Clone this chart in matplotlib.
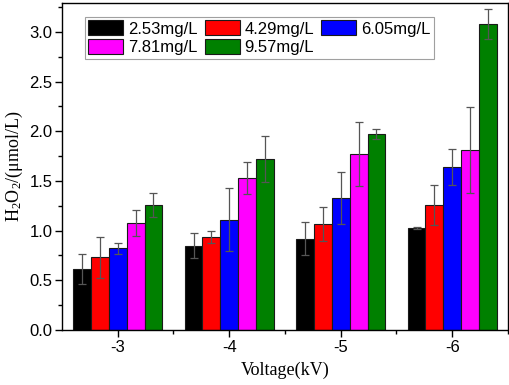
import matplotlib
matplotlib.use("Agg")
import matplotlib.pyplot as plt
import numpy as np
from matplotlib.ticker import MultipleLocator, FixedLocator

voltages = ["-3", "-4", "-5", "-6"]
series_labels = ["2.53mg/L", "4.29mg/L", "6.05mg/L", "7.81mg/L", "9.57mg/L"]
colors = ["#000000", "#ff0000", "#0000ff", "#ff00ff", "#008000"]

v_253 = [0.61, 0.85, 0.92, 1.03]
v_429 = [0.73, 0.94, 1.07, 1.26]
v_605 = [0.82, 1.11, 1.33, 1.64]
v_781 = [1.08, 1.53, 1.77, 1.81]
v_957 = [1.26, 1.72, 1.97, 3.08]

e_253 = [0.15, 0.13, 0.17, 0.01]
e_429 = [0.21, 0.06, 0.17, 0.20]
e_605 = [0.06, 0.32, 0.26, 0.18]
e_781 = [0.13, 0.16, 0.32, 0.43]
e_957 = [0.12, 0.23, 0.05, 0.15]

values = [v_253, v_429, v_605, v_781, v_957]
errors = [e_253, e_429, e_605, e_781, e_957]

plt.rcParams['font.family'] = ['Liberation Sans', 'DejaVu Sans']
plt.rcParams['mathtext.fontset'] = 'custom'
plt.rcParams['mathtext.rm'] = 'Liberation Serif'
plt.rcParams['mathtext.it'] = 'Liberation Serif:italic'

fig = plt.figure(figsize=(5.1, 3.85), dpi=100)
ax = fig.add_axes([62/510, 55/385, 446/510, 327/385])

x = np.arange(1, len(voltages) + 1)
w = 0.16
handles = []
for i, (vals, errs) in enumerate(zip(values, errors)):
    pos = x + (i - 2) * w
    b = ax.bar(pos, vals, width=w, color=colors[i], edgecolor="#1a1a1a",
               linewidth=0.8, label=series_labels[i], zorder=2)
    ax.errorbar(pos, vals, yerr=errs, fmt="none", ecolor="#555555",
                elinewidth=0.9, capsize=3, capthick=0.9, zorder=3)
    handles.append(b)

ax.set_xlim(0.5, 4.5)
ax.set_ylim(0, 3.29)
ax.set_xticks(x)
ax.set_xticklabels(voltages)
ax.xaxis.set_minor_locator(FixedLocator([1.5, 2.5, 3.5, 4.5]))
ax.yaxis.set_major_locator(MultipleLocator(0.5))
ax.yaxis.set_minor_locator(MultipleLocator(0.25))
ax.tick_params(axis="both", which="major", direction="out", length=5, width=1,
               labelsize=12, pad=2, top=False, right=False)
ax.tick_params(axis="both", which="minor", direction="out", length=3, width=1,
               top=False, right=False)
for s in ax.spines.values():
    s.set_linewidth(1.0)

ax.set_ylabel("H$_2$O$_2$/(μmol/L)", family="Liberation Serif", fontsize=13,
              labelpad=3)
ax.set_xlabel("Voltage(kV)", family="Liberation Serif", fontsize=13, labelpad=5)

order = [0, 3, 1, 4, 2]
leg = ax.legend([handles[k] for k in order], [series_labels[k] for k in order],
                ncol=3, loc="upper left", bbox_to_anchor=(0.0516, 0.957),
                fontsize=12, frameon=True, fancybox=False, edgecolor="#888888",
                handlelength=2.1, handleheight=1.0, columnspacing=0.4,
                handletextpad=0.3, labelspacing=0.15, borderpad=0.2,
                borderaxespad=0)
leg.get_frame().set_linewidth(0.8)

fig.savefig("out.png", dpi=100)
